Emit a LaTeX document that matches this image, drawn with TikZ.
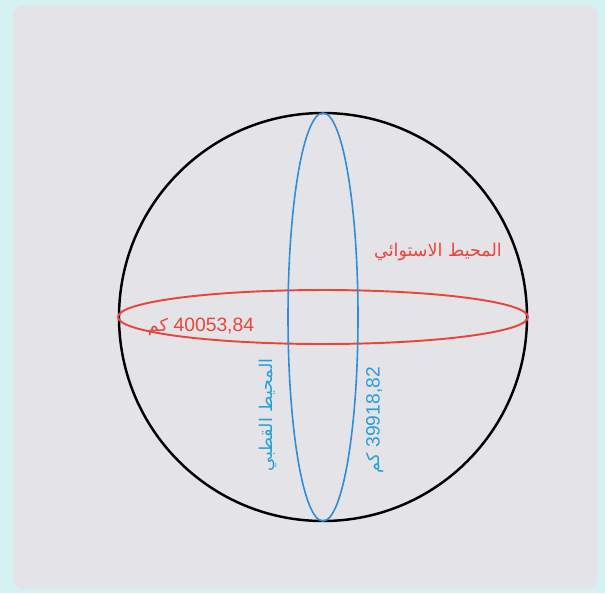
\documentclass[tikz,border=0pt]{standalone}
\usepackage{fontspec}
\newfontfamily\arabicfont[Script=Arabic]{DejaVu Sans}
\newfontfamily\numfont{Liberation Sans}
\TeXXeTstate=1
\definecolor{paper}{RGB}{228,227,231}
\definecolor{rim}{RGB}{212,242,242}
\definecolor{eqred}{RGB}{232,70,58}
\definecolor{polblue}{RGB}{46,140,216}
\definecolor{polbluetxt}{RGB}{40,160,215}

\begin{document}
\begin{tikzpicture}[x=0.02cm,y=-0.02cm,
  earth/.style={draw=black,line width=1.4pt},
  equator/.style={draw=eqred,line width=1.1pt},
  meridian/.style={draw=polblue,line width=0.9pt},
  eqlabel/.style={text=eqred,inner sep=1pt,font=\arabicfont\fontsize{10}{12}\selectfont},
  pollabel/.style={text=polbluetxt,inner sep=1pt,rotate=90,font=\arabicfont\fontsize{10}{12}\selectfont}]
  \useasboundingbox (0,0) rectangle (605,593);
  \fill[rim] (0,0) rectangle (605,593);
  \fill[paper,rounded corners=6pt] (13,5) rectangle (598,589);
  \coordinate (o) at (323,317);
  \draw[earth] (o) circle (204);
  \draw[equator] (o) ellipse (205 and 27);
  \draw[meridian] (o) ellipse (35 and 204);
  % labels
  \node[eqlabel] (eqname) at (438,252) {\beginR المحيط الاستوائي\endR};
  \node[eqlabel] (eqlen) at (201,327) {\beginR\beginL{\numfont\fontsize{11}{13}\selectfont 40053,84}\endL{} كم\endR};
  \node[pollabel] (polname) at (268,415) {\beginR المحيط القطبي\endR};
  \node[pollabel] (pollen) at (375,420) {\beginR\beginL{\numfont\fontsize{11}{13}\selectfont 39918,82}\endL{} كم\endR};
\end{tikzpicture}
\end{document}
